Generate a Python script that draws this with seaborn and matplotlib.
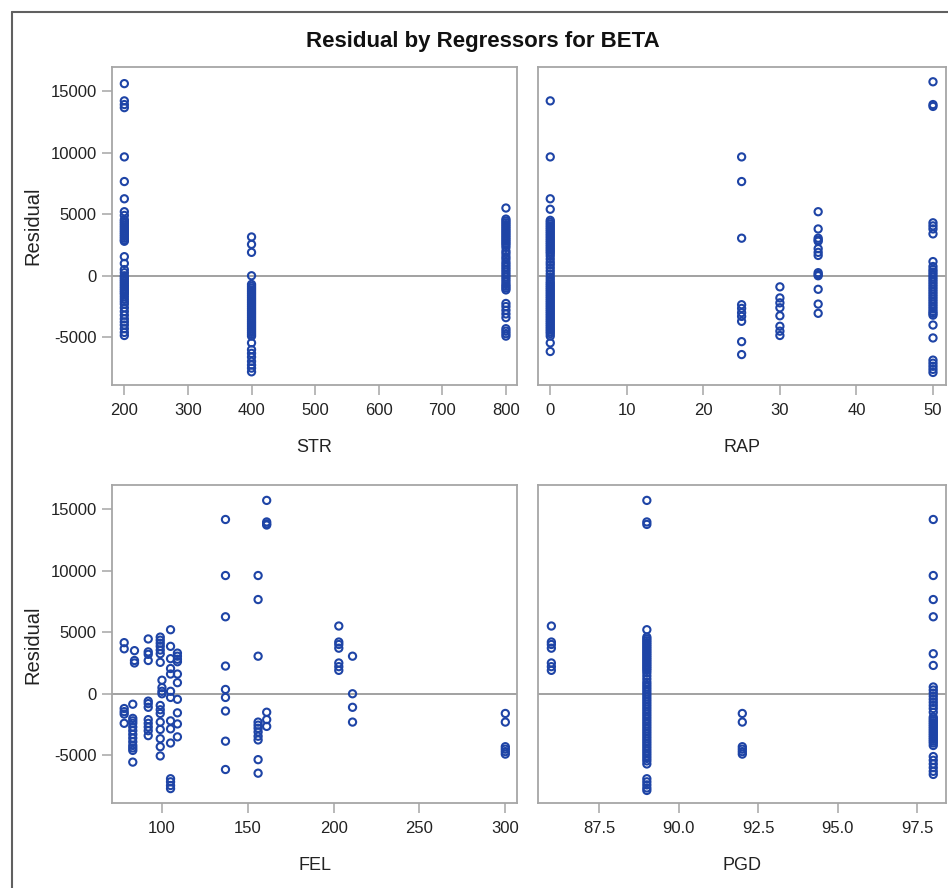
import matplotlib
matplotlib.use("Agg")
import matplotlib.pyplot as plt
from matplotlib.lines import Line2D
from matplotlib.ticker import FixedLocator, FormatStrFormatter
import seaborn as sns
import pandas as pd

# ---------------- data ----------------
TITLE = "Residual by Regressors for BETA"

STR_200 = [15600, 14200, 13900, 13650, 9650, 7650, 6250, 5200, 4900, 4550, 4400, 4250, 4100, 3950,
           3800, 3650, 3500, 3350, 3200, 3050, 2900, 2800, 1550, 1000, 500, 250, 0, -150, -300, -450,
           -600, -750, -900, -1050, -1200, -1350, -1500, -1700, -1900, -2100, -2300, -2600, -2900,
           -3200, -3500, -3750, -4000, -4300, -4600, -4850]
STR_400 = [3150, 2550, 1900, 0, -700, -850, -1000, -1150, -1300, -1450, -1600, -1750, -1900, -2050,
           -2200, -2350, -2500, -2650, -2800, -2950, -3100, -3250, -3400, -3550, -3700, -3850, -4000,
           -4150, -4300, -4450, -4600, -4750, -4900, -5450, -6000, -6300, -6600, -6950, -7250,
           -7500, -7800]
STR_800 = [5500, 4600, 4450, 4300, 4150, 4000, 3850, 3700, 3550, 3400, 3250, 3100, 2950, 2800, 2650,
           2500, 2300, 2000, 1800, 1550, 1350, 1100, 900, 700, 500, 300, 100, -100, -300, -500, -700,
           -850, -1000, -1150, -2250, -2500, -2800, -3100, -3400, -4300, -4500, -4700, -4900]

RAP_0 = [14200, 9650, 6250, 5400, 4500, 4350, 4200, 4050, 3900, 3750, 3600, 3450, 3300, 3150, 3000,
         2850, 2700, 2550, 2400, 2250, 2100, 1950, 1800, 1600, 1350, 1100, 900, 650, 400, 150, -100,
         -300, -500, -650, -800, -950, -1100, -1250, -1400, -1550, -1700, -1850, -2000, -2150,
         -2300, -2450, -2600, -2750, -2900, -3050, -3200, -3350, -3500, -3650, -3800, -3950, -4100,
         -4250, -4400, -4550, -4700, -4900, -5450, -6150]
RAP_25 = [9650, 7650, 3050, -2350, -2650, -3000, -3300, -3700, -5350, -6400]
RAP_30 = [-900, -1800, -2200, -2600, -3250, -4100, -4500, -4850]
RAP_35 = [5200, 3800, 3050, 2900, 2800, 2200, 1900, 1650, 250, 100, 0, -1100, -2300, -3050]
RAP_50 = [15750, 13900, 13750, 4300, 4050, 3800, 3400, 1150, 750, 500, 300, 100, -100, -300, -500,
          -700, -900, -1100, -1300, -1500, -1700, -1900, -2100, -2300, -2500, -2700, -2900, -3050,
          -3200, -4000, -5050, -6850, -7100, -7350, -7600, -7850]

FEL_78 = [4150, 3650, -1200, -1450, -1650, -2400]
FEL_83 = [-850, -2000, -2200, -2400, -2700, -3000, -3300, -3600, -3900, -4200, -4400, -4600, -5550]
FEL_84 = [3500, 2700, 2500]
FEL_92 = [4450, 3400, 3200, 2700, -600, -800, -1100, -2100, -2400, -2700, -3000, -3400]
FEL_99 = [4600, 4350, 4100, 3850, 3550, 3250, 2550, -950, -1300, -1600, -2300, -2900, -3650, -4300, -5050]
FEL_100 = [1100, 500, 200, 0]
FEL_105 = [5200, 3850, 2850, 2050, 1600, 200, -300, -2200, -2850, -4000, -6900, -7150, -7450, -7700]
FEL_109 = [3300, 3050, 2800, 2600, 1600, 900, -450, -1550, -2450, -3500]
FEL_137 = [14150, 9600, 6250, 2250, 350, -300, -1400, -3850, -6150]
FEL_156 = [9600, 7650, 3050, -2300, -2550, -2800, -3100, -3450, -3750, -5350, -6450]
FEL_161 = [15700, 13950, 13800, 13700, -1500, -2100, -2650]
FEL_203 = [5500, 4200, 4000, 3700, 2500, 2200, 1900]
FEL_211 = [3050, 0, -1100, -2300]
FEL_300 = [-1600, -2300, -4300, -4500, -4700, -4900]

PGD_86 = [5500, 4200, 4000, 3700, 2500, 2200, 1900]
PGD_89 = [15700, 13950, 13750, 5200, 4600, 4450, 4300, 4150, 4000, 3850, 3700, 3550, 3400, 3250,
          3100, 2950, 2800, 2650, 2500, 2350, 2200, 2050, 1900, 1700, 1450, 1200, 950, 750, 550, 350,
          150, -50, -250, -450, -650, -850, -1050, -1250, -1450, -1650, -1850, -2050, -2250, -2450,
          -2650, -2850, -3050, -3250, -3450, -3650, -3850, -4050, -4250, -4450, -4650, -4850,
          -5050, -5250, -5450, -5700, -6900, -7150, -7400, -7650, -7850]
PGD_92 = [-1600, -2300, -4300, -4500, -4700, -4900]
PGD_98 = [14150, 9600, 7650, 6250, 3250, 2300, 550, 300, 50, -200, -450, -700, -950, -1200, -1500,
          -1900, -2050, -2200, -2350, -2500, -2650, -2800, -2950, -3100, -3250, -3400, -3550, -3700,
          -3850, -4000, -4200, -5100, -5400, -5700, -6000, -6300, -6550]

panels = [
    ("STR", {200: STR_200, 400: STR_400, 800: STR_800}),
    ("RAP", {0: RAP_0, 25: RAP_25, 30: RAP_30, 35: RAP_35, 50: RAP_50}),
    ("FEL", {78: FEL_78, 83: FEL_83, 84: FEL_84, 92: FEL_92, 99: FEL_99, 100: FEL_100, 105: FEL_105,
             109: FEL_109, 137: FEL_137, 156: FEL_156, 161: FEL_161, 203: FEL_203, 211: FEL_211,
             300: FEL_300}),
    ("PGD", {86: PGD_86, 89: PGD_89, 92: PGD_92, 98: PGD_98}),
]

x_ticks = {
    "STR": [200, 300, 400, 500, 600, 700, 800],
    "RAP": [0, 10, 20, 30, 40, 50],
    "FEL": [100, 150, 200, 250, 300],
    "PGD": [87.5, 90.0, 92.5, 95.0, 97.5],
}
x_lims = {"STR": (180.6, 817.4), "RAP": (-1.6, 51.7), "FEL": (70.9, 306.8), "PGD": (85.58, 98.4)}
y_ticks = [-5000, 0, 5000, 10000, 15000]
y_lim = (-8870, 16950)

# ---------------- style ----------------
sns.set_style("white")
plt.rcParams["font.family"] = ["Liberation Sans", "DejaVu Sans"]
plt.rcParams["axes.unicode_minus"] = False

W, H = 948, 888
fig = plt.figure(figsize=(W / 100, H / 100), dpi=100)


def rect(l, r, t, b):
    return [l / W, 1 - b / H, (r - l) / W, (b - t) / H]


boxes = [rect(112, 517, 67, 385), rect(538, 946, 67, 385),
         rect(112, 517, 485, 803), rect(538, 946, 485, 803)]

MARK = "#1E44A6"
FRAME = "#A6A6A6"
TEXT = "#222222"

for i, ((name, groups), box) in enumerate(zip(panels, boxes)):
    ax = fig.add_axes(box)
    rows = [(xv, r) for xv, res in groups.items() for r in res]
    df = pd.DataFrame(rows, columns=[name, "Residual"])
    ax.axhline(0, color="#9A9A9A", lw=1.3, zorder=0)
    sns.scatterplot(data=df, x=name, y="Residual", ax=ax, marker="o", s=27,
                    facecolors="none", edgecolor=MARK, linewidth=1.5, legend=False, zorder=3)
    ax.set_xlim(*x_lims[name])
    ax.set_ylim(*y_lim)
    ax.xaxis.set_major_locator(FixedLocator(x_ticks[name]))
    if name == "PGD":
        ax.xaxis.set_major_formatter(FormatStrFormatter("%.1f"))
    ax.yaxis.set_major_locator(FixedLocator(y_ticks))
    ax.set_xlabel("")
    ax.set_ylabel("")
    for sp in ax.spines.values():
        sp.set_color(FRAME)
        sp.set_linewidth(1.3)
    ax.tick_params(axis="x", direction="out", length=7, width=1.1, color=FRAME,
                   labelsize=12, labelcolor=TEXT, pad=6, bottom=True)
    if i % 2 == 0:
        ax.tick_params(axis="y", direction="out", length=7, width=1.1, color=FRAME,
                       labelsize=12, labelcolor=TEXT, pad=4, left=True)
    else:
        ax.tick_params(axis="y", left=False, labelleft=False)
    cx = (box[0] + box[2] / 2)
    ylab = 448 if i < 2 else 865
    fig.text(cx, 1 - ylab / H, name, ha="center", va="center", fontsize=13, color=TEXT)

fig.text(33 / W, 1 - 226 / H, "Residual", rotation=90, ha="center", va="center", fontsize=14.5, color=TEXT)
fig.text(33 / W, 1 - 645 / H, "Residual", rotation=90, ha="center", va="center", fontsize=14.5, color=TEXT)
fig.text(483 / W, 1 - 42 / H, TITLE, ha="center", va="center", fontsize=16, fontweight="bold", color="#111111")

fig.add_artist(Line2D([12 / W, 12 / W], [0, 1 - 12 / H], transform=fig.transFigure, color="#606060", lw=1.5))
fig.add_artist(Line2D([12 / W, 1], [1 - 12 / H, 1 - 12 / H], transform=fig.transFigure, color="#606060", lw=1.5))

fig.savefig("out.png", dpi=100)
